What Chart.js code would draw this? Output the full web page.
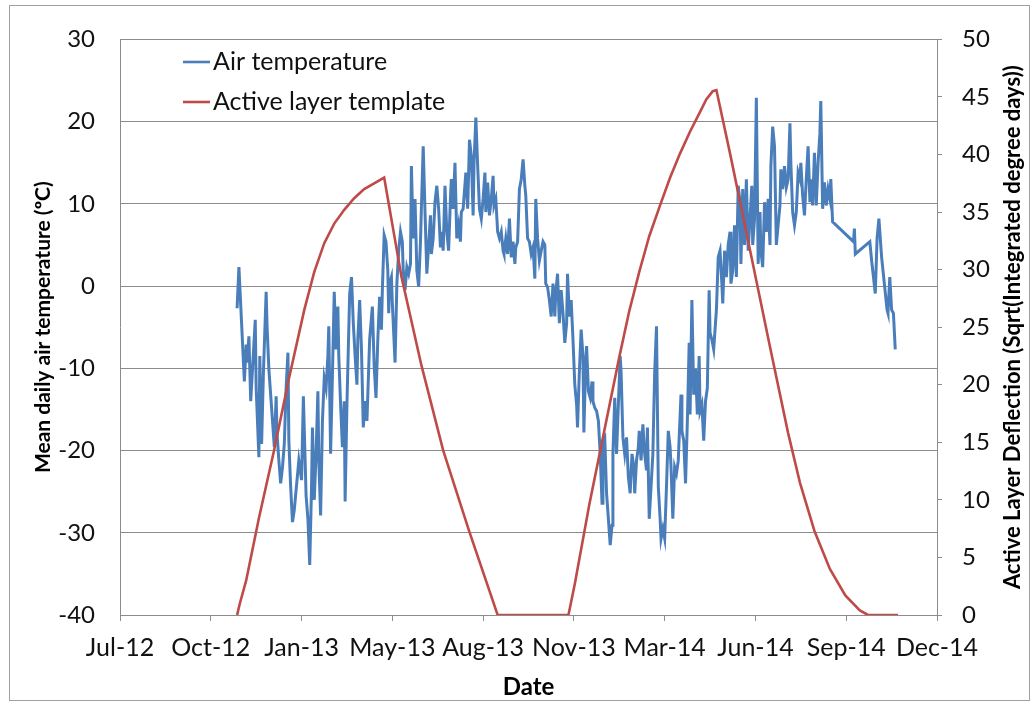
<!DOCTYPE html>
<html>
<head>
<meta charset="utf-8">
<title>Air temperature and active layer template</title>
<script src="https://cdn.jsdelivr.net/npm/chart.js@4.4.1/dist/chart.umd.min.js"></script>
<style>
  html, body { margin: 0; padding: 0; background: #ffffff; }
  #wrap { width: 1036px; height: 715px; }
</style>
</head>
<body>
<div id="wrap"><canvas id="chart" width="1036" height="715"></canvas></div>
<script>
// Date axis: x values are days counted from 10 Jul 2012, ticks every 100 days.
const dateTicks = [0, 100, 200, 300, 400, 500, 600, 700, 800, 900];
const dateTickLabels = ['Jul-12', 'Oct-12', 'Jan-13', 'May-13', 'Aug-13', 'Nov-13', 'Mar-14', 'Jun-14', 'Sep-14', 'Dec-14'];

// Mean daily air temperature (ºC)
const tempDay = [
  129,131,137,139,140,142,144,149,150,153,154,156,158,161,162,164,168,170,172,173,
  175,177,179,181,183,185,186,188,190,192,196,197,200,202,205,207,209,211,212,214,
  216,218,219,221,223,225,227,229,230,232,234,236,238,240,241,243,245,247,248,250,
  253,255,257,259,261,262,264,266,268,270,272,273,275,278,280,282,284,286,288,289,
  291,293,295,296,297,299,300,301,303,305,307,309,311,312,314,316,318,320,321,323,
  325,327,329,331,332,334,336,338,340,342,343,345,347,349,351,353,354,356,358,360,
  362,364,365,367,369,371,373,375,376,378,381,383,385,387,389,390,392,394,396,398,
  400,402,403,405,407,409,411,412,414,416,418,420,422,423,425,427,429,431,433,435,
  436,438,440,442,444,446,447,449,451,453,455,457,458,460,462,464,466,468,469,471,
  473,475,477,479,480,482,484,486,488,490,492,493,495,497,499,501,503,504,506,508,
  510,511,513,514,516,518,520,521,523,525,527,529,531,532,534,536,538,540,542,543,
  545,547,549,551,552,554,556,558,560,562,564,566,567,569,571,572,574,576,578,580,
  581,583,585,587,589,591,593,595,596,598,600,602,604,606,607,609,611,613,615,616,
  618,619,621,623,625,627,628,630,632,634,636,638,639,641,643,645,647,649,650,652,
  654,657,659,661,663,664,666,668,670,672,673,675,677,679,681,683,684,686,688,690,
  692,694,696,697,699,701,703,705,706,708,710,712,714,716,717,719,721,723,725,727,
  728,730,732,734,736,738,739,741,743,745,747,749,750,752,754,756,758,760,761,763,
  765,767,769,771,772,774,776,778,780,782,783,785,808,809,810,826,828,830,832,834,
  836,839,842,845,846,848,850,852,854
];
const tempValue = [
  -2.7,2.3,-11.6,-7.1,-9.3,-6.1,-14.0,-4.1,-12.4,-20.8,-8.5,-19.2,-10.5,-0.7,-4.9,-10.1,-16.4,-19.6,-13.4,-18.0,
  -21.2,-24.0,-22.0,-19.2,-12.4,-8.1,-18.8,-24.4,-28.7,-27.2,-22.4,-21.2,-23.6,-13.4,-25.5,-28.3,-33.9,-24.4,-17.2,-26.0,
  -20.4,-12.8,-21.2,-27.9,-16.4,-11.2,-12.4,-8.5,-4.9,-20.4,-10.9,-0.7,-7.7,-2.5,-8.5,-14.4,-19.6,-14.0,-26.2,-14.4,
  -0.9,1.1,-4.5,-8.5,-12.0,-6.5,-1.7,-7.7,-17.2,-14.0,-16.4,-13.2,-6.5,-2.5,-9.7,-13.6,-6.5,-1.3,-5.3,-0.5,
  6.2,5.4,1.9,-3.3,0.3,1.1,-2.1,-4.5,-9.3,0.3,4.3,6.6,5.4,1.9,-0.5,2.3,1.5,2.7,14.6,5.8,
  10.6,1.9,-0.1,5.4,9.4,17.0,9.0,1.5,5.0,8.6,3.9,5.8,10.2,12.2,9.4,4.7,6.6,4.3,12.2,6.6,
  4.3,10.6,13.0,9.4,15.0,5.8,7.4,5.4,9.0,9.4,13.8,9.4,17.8,15.8,8.6,15.0,20.5,14.6,9.4,8.2,
  10.6,13.8,9.0,12.6,8.6,10.6,13.4,9.8,10.6,6.6,5.8,6.6,4.3,3.9,5.8,3.9,8.2,3.5,5.4,2.7,
  4.7,5.4,11.8,13.0,15.4,12.2,11.0,5.8,5.4,3.9,4.7,0.9,10.6,5.8,3.1,4.3,5.4,5.0,0.3,-0.1,
  -1.7,-3.7,0.3,-3.7,-0.9,1.5,-4.5,-0.5,-3.3,-6.9,-4.5,1.5,-3.7,-1.7,-6.5,-12.0,-14.4,-17.2,-10.5,-5.3,
  -8.5,-17.8,-9.3,-7.3,-12.8,-13.6,-11.6,-14.0,-14.8,-15.2,-16.4,-20.4,-26.4,-18.8,-18.4,-25.2,-28.3,-31.5,-29.1,-20.4,
  -13.6,-20.4,-14.4,-8.5,-10.5,-18.4,-20.4,-18.4,-23.2,-25.2,-20.4,-22.0,-25.2,-21.2,-19.6,-17.6,-21.2,-16.8,-20.4,-22.4,
  -17.2,-28.3,-24.4,-20.4,-10.5,-4.9,-24.4,-28.3,-30.7,-29.5,-30.7,-24.4,-17.6,-19.6,-22.0,-28.3,-22.0,-22.8,-21.2,-18.4,
  -13.2,-17.6,-18.8,-24.0,-16.4,-6.9,-15.6,-1.7,-13.2,-10.1,-15.6,-8.5,-15.2,-14.4,-18.8,-14.0,-12.4,-0.5,-5.7,-6.5,
  -7.7,-2.9,3.5,4.3,0.3,-2.1,4.3,1.1,5.0,6.6,0.3,1.9,7.4,1.1,12.2,10.2,2.7,11.8,5.0,13.0,
  4.3,8.2,12.2,5.0,8.2,22.9,2.7,9.0,4.3,2.3,10.2,6.6,10.6,5.0,14.6,19.4,17.0,5.0,7.4,9.8,
  14.2,11.8,14.6,12.0,13.0,19.8,15.0,9.0,7.4,9.0,13.8,13.0,15.0,11.0,8.6,13.0,17.0,10.2,13.0,9.8,
  16.2,9.8,15.0,18.6,22.5,9.4,12.6,9.8,11.8,10.6,13.0,7.8,5.4,7.0,3.9,5.4,3.1,1.1,-0.9,5.8,
  8.2,3.5,0.3,-2.9,-3.3,1.1,-2.9,-3.3,-7.7
];

// Active layer template, Sqrt(integrated degree days)
const layerDay = [
  129,132,139,153,170,186,203,214,225,236,247,258,269,280,291,310,332,356,385,407,
  416,494,501,517,534,550,561,572,583,595,606,617,628,639,646,653,657,672,694,716,
  736,749,765,782,799,815,824,857
];
const layerValue = [
  0,1.0,3.0,8.4,14.4,20.5,26.5,29.8,32.3,34.0,35.2,36.2,37.0,37.5,38.0,29.4,21.7,14.3,7.2,2.1,
  0,0,2.7,9.6,16.2,22.4,26.4,29.8,32.9,35.6,38.0,40.1,42.0,43.7,44.8,45.5,45.6,40.1,31.7,23.3,
  15.8,11.5,7.3,4.0,1.7,0.4,0,0
];

const seriesNames = ['Air temperature', 'Active layer template'];
const leftTitle = 'Mean daily air temperature (ºC)';
const rightTitle = 'Active Layer Deflection (Sqrt(Integrated degree days))';
const bottomTitle = 'Date';

const BLUE = '#4a7ebb';
const RED = '#be4b48';
const GRID = '#8c8c8c';
const FONT = 'Lato, "Open Sans", "DejaVu Sans", sans-serif';

const tempPoints = tempDay.map((d, i) => ({ x: d, y: tempValue[i] }));
const layerPoints = layerDay.map((d, i) => ({ x: d, y: layerValue[i] }));

// Outer frame, in-plot legend and the right-hand axis title (read bottom to top)
const decorations = {
  id: 'decorations',
  beforeDraw(chart) {
    const ctx = chart.ctx;
    ctx.save();
    ctx.fillStyle = '#ffffff';
    ctx.fillRect(0, 0, chart.width, chart.height);
    ctx.restore();
  },
  afterDraw(chart) {
    const ctx = chart.ctx;
    const area = chart.chartArea;
    ctx.save();
    ctx.strokeStyle = '#a0a0a0';
    ctx.lineWidth = 1;
    ctx.strokeRect(9.5, 5.5, 1020, 695);

    // legend
    const rows = [
      { label: chart.data.datasets[0].label, color: chart.data.datasets[0].borderColor, y: 62 },
      { label: chart.data.datasets[1].label, color: chart.data.datasets[1].borderColor, y: 102 }
    ];
    ctx.font = '25px ' + FONT;
    ctx.textBaseline = 'middle';
    ctx.textAlign = 'left';
    rows.forEach(r => {
      ctx.strokeStyle = r.color;
      ctx.lineWidth = 2.6;
      ctx.beginPath();
      ctx.moveTo(183, r.y);
      ctx.lineTo(210, r.y);
      ctx.stroke();
      ctx.fillStyle = '#111111';
      ctx.fillText(r.label, 213, r.y);
    });

    // right axis title
    ctx.translate(1013, (area.top + area.bottom) / 2);
    ctx.rotate(-Math.PI / 2);
    ctx.font = 'bold 22px ' + FONT;
    ctx.textAlign = 'center';
    ctx.textBaseline = 'middle';
    ctx.fillStyle = '#000000';
    ctx.fillText(rightTitle, 0, 0);
    ctx.restore();
  }
};

new Chart(document.getElementById('chart'), {
  type: 'line',
  data: {
    datasets: [
      {
        label: seriesNames[0],
        data: tempPoints,
        yAxisID: 'y',
        borderColor: BLUE,
        borderWidth: 3,
        pointRadius: 0,
        tension: 0,
        fill: false,
        order: 2
      },
      {
        label: seriesNames[1],
        data: layerPoints,
        yAxisID: 'y2',
        borderColor: RED,
        borderWidth: 2.6,
        pointRadius: 0,
        tension: 0,
        fill: false,
        order: 1
      }
    ]
  },
  options: {
    responsive: false,
    animation: false,
    devicePixelRatio: 1,
    layout: { padding: { top: 28, left: 0, right: 0, bottom: 0 } },
    plugins: {
      legend: { display: false },
      tooltip: { enabled: false }
    },
    scales: {
      x: {
        type: 'linear',
        position: 'bottom',
        min: 0,
        max: 900,
        afterBuildTicks(scale) {
          scale.ticks = dateTicks.map(v => ({ value: v }));
        },
        afterFit(scale) { scale.height = 100; },
        ticks: {
          autoSkip: false,
          maxRotation: 0,
          padding: 12,
          color: '#111111',
          font: { family: FONT, size: 25 },
          callback(value) {
            const i = dateTicks.indexOf(value);
            return i >= 0 ? dateTickLabels[i] : '';
          }
        },
        grid: {
          drawOnChartArea: false,
          drawTicks: true,
          tickLength: 6,
          color: GRID
        },
        border: { display: true, color: GRID },
        title: {
          display: true,
          text: bottomTitle,
          color: '#000000',
          font: { family: FONT, size: 24, weight: 'bold' },
          padding: { top: 0, bottom: 13 }
        }
      },
      y: {
        type: 'linear',
        position: 'left',
        min: -40,
        max: 30,
        afterFit(scale) { scale.width = 120; },
        ticks: {
          stepSize: 10,
          padding: 25,
          color: '#111111',
          font: { family: FONT, size: 24 }
        },
        grid: { color: GRID, drawTicks: false },
        border: { display: true, color: GRID },
        title: {
          display: true,
          text: leftTitle,
          color: '#000000',
          font: { family: FONT, size: 21, weight: 'bold' },
          padding: { top: 31, bottom: 0 }
        }
      },
      y2: {
        type: 'linear',
        position: 'right',
        min: 0,
        max: 50,
        afterFit(scale) { scale.width = 99; },
        ticks: {
          stepSize: 5,
          padding: 20,
          color: '#111111',
          font: { family: FONT, size: 24 }
        },
        grid: { drawOnChartArea: false, drawTicks: true, tickLength: 5, color: GRID },
        border: { display: true, color: GRID }
      }
    }
  },
  plugins: [decorations]
});
</script>
</body>
</html>
